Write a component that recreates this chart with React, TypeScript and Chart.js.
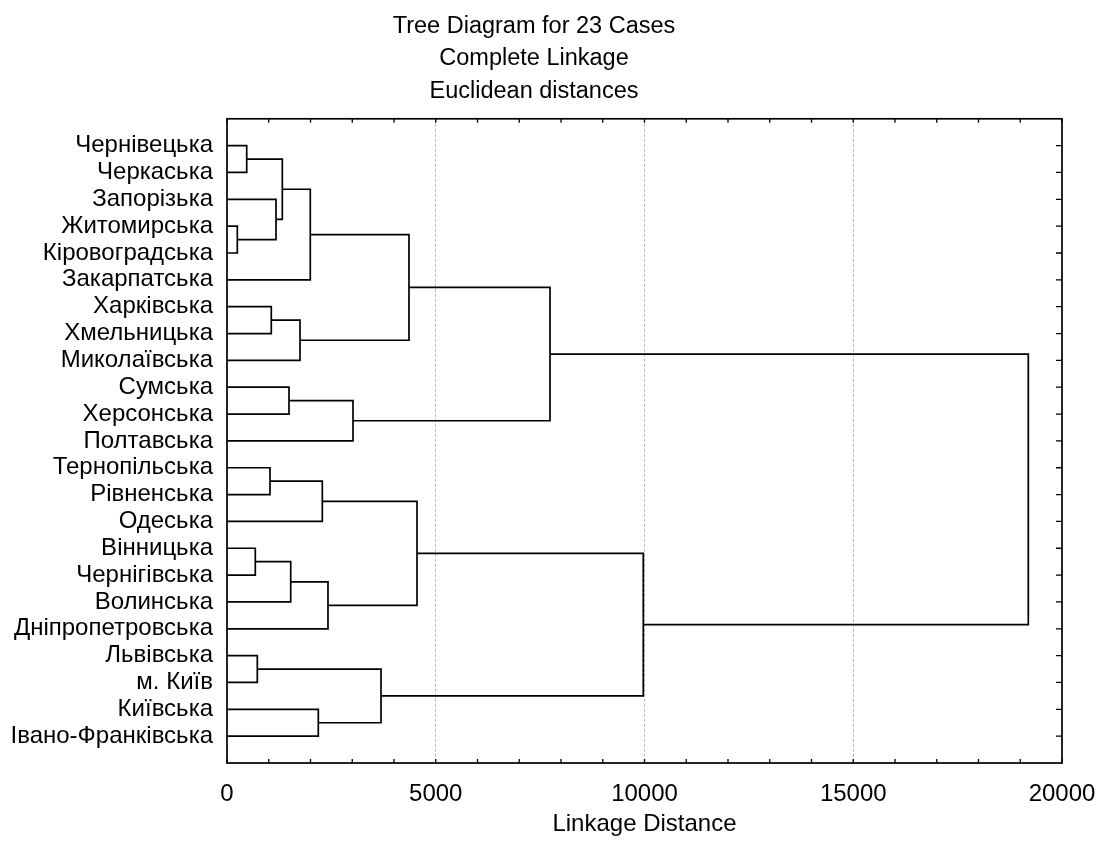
import React, { useEffect, useRef } from 'react';
import { Chart, registerables } from 'chart.js';

Chart.register(...registerables);

const titleLines = ['Tree Diagram for 23 Cases', 'Complete Linkage', 'Euclidean distances'];
const axisTitle = 'Linkage Distance';

const leafNames = [
  'Чернівецька',
  'Черкаська',
  'Запорізька',
  'Житомирська',
  'Кіровоградська',
  'Закарпатська',
  'Харківська',
  'Хмельницька',
  'Миколаївська',
  'Сумська',
  'Херсонська',
  'Полтавська',
  'Тернопільська',
  'Рівненська',
  'Одеська',
  'Вінницька',
  'Чернігівська',
  'Волинська',
  'Дніпропетровська',
  'Львівська',
  'м. Київ',
  'Київська',
  'Івано-Франківська',
];

// merge k creates cluster index leafNames.length + k
const mergeLeft = [0, 3, 2, 23, 26, 6, 28, 27, 9, 31, 30, 12, 34, 15, 36, 37, 35, 19, 21, 40, 39, 33];
const mergeRight = [1, 4, 24, 25, 5, 7, 8, 29, 10, 11, 32, 13, 14, 16, 17, 18, 38, 20, 22, 41, 42, 43];
const mergeHeight = [472, 247, 1174, 1325, 1995, 1061, 1749, 4359, 1485, 3018, 7737, 1030, 2283, 678, 1526, 2419, 4551, 726, 2187, 3689, 9971, 19193];

const xMin = 0;
const xMax = 20000;
const xMinorStep = 1000;
const xMajorStep = 5000;

const FONT = "'Liberation Sans', Arial, sans-serif";

function buildDatasets() {
  const pos: number[] = leafNames.map((_, i) => i);
  const hgt: number[] = leafNames.map(() => 0);
  const datasets: any[] = [];
  mergeLeft.forEach((l, k) => {
    const r = mergeRight[k];
    const h = mergeHeight[k];
    datasets.push({
      label: 'm' + k,
      data: [
        { x: hgt[l], y: pos[l] },
        { x: h, y: pos[l] },
        { x: h, y: pos[r] },
        { x: hgt[r], y: pos[r] },
      ],
      showLine: true,
      borderColor: '#000',
      borderWidth: 1.7,
      pointRadius: 0,
      borderJoinStyle: 'miter',
      borderCapStyle: 'butt',
      tension: 0,
      fill: false,
    });
    pos.push((pos[l] + pos[r]) / 2);
    hgt.push(h);
  });
  return datasets;
}

const framePlugin = {
  id: 'frameTicks',
  afterDatasetsDraw(chart: any) {
    const { ctx, chartArea } = chart;
    const { left, right, top, bottom } = chartArea;
    const xs = chart.scales.x;
    const ys = chart.scales.y;
    ctx.save();
    ctx.strokeStyle = '#000';
    ctx.lineWidth = 1.7;
    ctx.strokeRect(left, top, right - left, bottom - top);
    ctx.lineWidth = 1.3;
    ctx.beginPath();
    xs.ticks.forEach((t: any) => {
      const px = xs.getPixelForValue(t.value);
      ctx.moveTo(px, bottom);
      ctx.lineTo(px, bottom - 4);
      ctx.moveTo(px, top);
      ctx.lineTo(px, top + 4);
    });
    ys.ticks.forEach((t: any) => {
      const py = ys.getPixelForValue(t.value);
      ctx.moveTo(right, py);
      ctx.lineTo(right - 6, py);
    });
    ctx.stroke();
    ctx.restore();
  },
};

export default function App() {
  const ref = useRef<HTMLCanvasElement | null>(null);

  useEffect(() => {
    if (!ref.current) return;
    const chart = new Chart(ref.current, {
      type: 'scatter',
      data: { datasets: buildDatasets() },
      options: {
        animation: false,
        responsive: false,
        layout: { padding: { left: 6, right: 34, top: 0, bottom: 0 } },
        plugins: {
          legend: { display: false },
          tooltip: { enabled: false },
          title: {
            display: true,
            text: titleLines,
            color: '#000',
            font: { family: FONT, size: 23.5, weight: 'normal', lineHeight: 1.38 },
            padding: { top: 10, bottom: 11.5 },
          },
        },
        scales: {
          x: {
            type: 'linear',
            position: 'bottom',
            min: xMin,
            max: xMax,
            afterFit: (s: any) => {
              s.height = 86;
              s.paddingLeft = 0;
              s.paddingRight = 0;
            },
            ticks: {
              stepSize: xMinorStep,
              autoSkip: false,
              maxRotation: 0,
              padding: 17,
              color: '#000',
              font: { family: FONT, size: 24 },
              callback: (v: any) => (Number(v) % xMajorStep === 0 ? String(v) : ''),
            },
            grid: {
              drawTicks: false,
              lineWidth: 1,
              color: (c: any) =>
                c.tick && c.tick.value % xMajorStep === 0 && c.tick.value > xMin && c.tick.value < xMax
                  ? '#b8b8b8'
                  : 'rgba(0,0,0,0)',
            },
            border: { display: false, dash: [3, 2] },
            title: {
              display: true,
              text: axisTitle,
              color: '#000',
              font: { family: FONT, size: 24, lineHeight: 1.2 },
              padding: { top: 0, bottom: 10 },
            },
          },
          y: {
            type: 'linear',
            reverse: true,
            min: -1,
            max: leafNames.length,
            afterFit: (s: any) => {
              s.width = 221;
            },
            afterBuildTicks: (s: any) => {
              s.ticks = leafNames.map((_, i) => ({ value: i }));
            },
            ticks: {
              autoSkip: false,
              padding: 14,
              color: '#000',
              font: { family: FONT, size: 24 },
              callback: (v: any) => leafNames[Number(v)] ?? '',
            },
            grid: { display: false, drawTicks: false },
            border: { display: false },
          },
        },
      },
      plugins: [framePlugin],
    } as any);
    return () => chart.destroy();
  }, []);

  return (
    <div style={{ position: 'fixed', left: 0, top: 0, width: 1096, height: 849, background: '#fff' }}>
      <canvas ref={ref} width={1096} height={849} style={{ display: 'block' }} />
    </div>
  );
}
